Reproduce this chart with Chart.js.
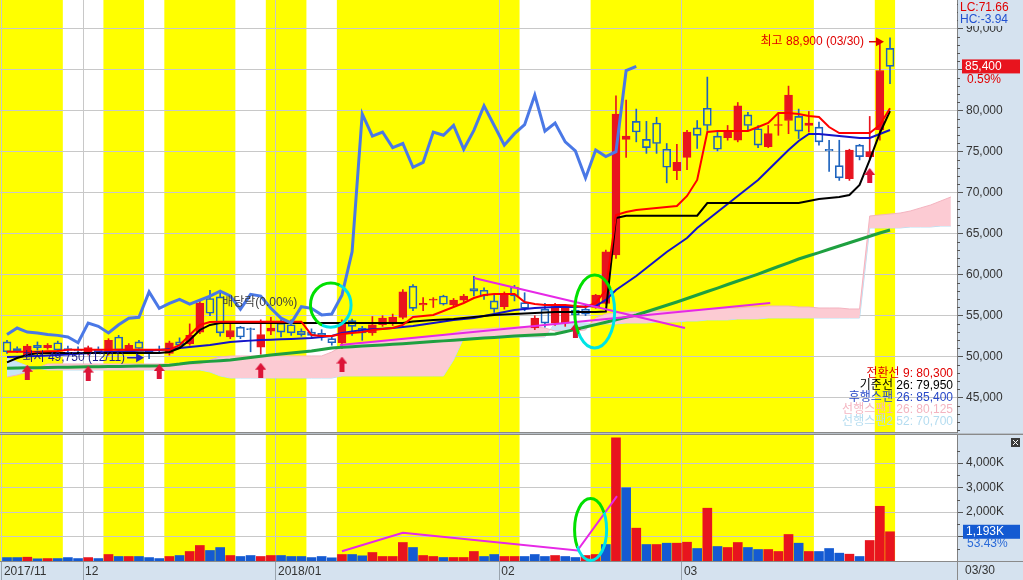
<!DOCTYPE html>
<html>
<head>
<meta charset="utf-8">
<script src="https://cdn.jsdelivr.net/npm/chart.js@4.4.1/dist/chart.umd.min.js"></script>
<style>
  html, body { margin: 0; padding: 0; background: #d5e2ef; }
  #wrap { position: relative; width: 1023px; height: 580px; overflow: hidden; }
  canvas { position: absolute; left: 0; }
  #priceCanvas { top: 0; }
  #volCanvas { top: 434px; }
</style>
</head>
<body>
<div id="wrap">
  <canvas id="priceCanvas" width="1023" height="434"></canvas>
  <canvas id="volCanvas" width="1023" height="146"></canvas>
</div>
<script>
// daily candles 2017/11/21 .. 2018/03/30 (88 trading days)
const opens = [51800,51000,50200,51400,51100,51700,51000,50900,50400,50900, 50400,52400,50600,51800,50700,50900,50400,51800,51600,53000,
  57100,57300,52400,53600,53400,51150,53100,54100,53900,53100, 53000,52850,52200,51700,54400,53500,52900,53900,54000,54800,
  58600,56300,56900,57400,56300,56900,58300,58100,56800,56100, 58500,56600,53500,55800,54100,54100,55700,55800,56000,56500,
  62400,76500,78700,76500,78500,75300,72700,74300,77900,80300, 76900,76700,76400,79500,77800,75600,78200,78800,79300,78200,
  78000,75300,73300,71700,75800,74400,77700,87600];
const highs = [52000,51200,51500,51800,51600,51900,51300,51200,51300,51200, 52200,52600,51600,52000,50900,51300,51900,52300,54000,57000,
  58100,58100,54000,53700,53500,54500,54800,54500,54500,53400, 53400,53300,52500,54500,54600,53700,54900,55000,55200,58200,
  58800,57200,57200,57500,57100,57600,59800,58400,57600,57900, 58700,57800,55000,56500,56500,56200,56400,56300,57600,63000,
  81800,81300,80200,78700,79200,76000,75900,77600,78800,84100, 77400,78200,81000,79800,78200,78200,79700,83000,80200,79900,
  78600,76400,76400,75300,75900,79300,88500,88900];
const lows = [50400,50500,50000,50800,50900,50700,50600,50500,50200,50400, 50200,50600,50400,50800,49750,50500,50200,51000,51400,52800,
  55000,52500,52200,52200,50600,50300,52700,52400,52600,52500, 52300,52000,51400,51000,52600,52000,52600,53700,53800,54600,
  55600,55600,56000,56300,56100,56700,57400,57000,55400,55800, 56800,55600,53300,53600,53800,53700,54400,55000,55900,56400,
  62000,74300,76200,74800,74800,71200,71600,72800,75400,77600, 75100,76400,76200,77600,75500,75500,77000,77200,76600,77400,
  75800,72600,71500,71500,74000,74000,76400,83300];
const closes = [50600,50700,51300,51100,51400,50800,50800,50700,51100,50600, 52000,50800,51400,51000,50400,50800,51700,51400,52600,56500,
  55300,52900,53200,52400,53300,52700,53500,53000,52900,52700, 52600,52400,51700,54100,53700,52900,53900,54700,54800,57900,
  55900,56500,57000,56400,56900,57400,58000,57400,55800,57600, 57400,55900,54700,54100,56100,55900,55100,55200,57500,62800,
  79600,76900,77400,75500,76000,73100,73700,77400,77000,78200, 75300,77600,80600,78200,75800,77200,78300,81900,77500,78500,
  76200,75100,71800,75200,74400,75000,84900,85400];

// volume in thousands, and whether the bar is shown as an up day
const volumes = [140,140,155,90,100,100,140,100,140,100, 265,184,184,184,140,100,184,224,388,633,
  429,550,224,184,224,184,224,224,184,184, 140,184,130,265,265,212,347,184,184,755,
  551,224,184,143,143,143,388,184,265,184, 184,184,265,184,224,184,143,224,265,673,
  5030,2990,1340,673,673,727,727,767,510,2155, 592,551,755,551,469,469,388,1082,727,388,
  388,510,320,278,184,837,2233,1193];
const volUp = [0,0,1,0,1,0,0,0,1,0, 1,0,1,0,0,0,1,0,1,1, 0,0,1,0,0,1,1,0,0,0, 0,0,0,1,0,0,1,1,1,1,
  0,1,1,0,1,1,1,0,0,1, 1,0,0,0,1,0,0,1,1,0, 1,0,1,0,1,0,1,1,0,1, 0,1,1,0,0,1,1,1,0,1, 0,0,0,1,0,1,1,1];

// ichimoku + moving averages
const convLine = [50600,50600,50600,50600,50650,50700,50850,50850,50850,50850, 50850,50850,50850,50850,50850,50850,50850,51400,52650,53870,
  54230,54270,54270,54270,54270,54270,54270,54270,54270,54270, 52650,52520,52520,52770,52900,53000,53250,53380,53500,53870,
  54840,54960,55090,55570,56060,56550,57160,57520,57650,57650, 57650,56670,56430,56300,56300,56300,56180,56060,56550,58130,
  67280,67650,67890,68010,68130,68250,68380,69600,71550,77400, 77520,77520,77520,77520,78010,78500,79720,79720,79600,79350,
  79230,78010,77280,77280,77280,77280,78250,80300];
const baseLine = [49310,49840,50200,50450,50450,50450,50450,50450,50450,50450, 50450,50450,50450,50450,50450,50450,50570,51060,52040,53260,
  53870,54110,54110,54110,54110,54110,54110,54110,54110,54110, 54110,54110,54110,54110,54110,54110,54110,54110,54110,54110,
  54290,54380,54480,54540,54600,54720,54840,54960,55090,55150, 55210,55270,55330,55400,55450,55450,55450,55450,55450,55500,
  66900,67200,67200,67200,67200,67200,67200,67200,67200,68740, 68740,68740,68740,68740,68740,68740,68740,68740,68740,69000,
  69230,69350,69480,69720,70940,74000,77280,79950];
const maMid = [49960,50000,50050,50100,50150,50200,50270,50350,50420,50500, 50570,50620,50670,50720,50770,50820,50940,51060,51180,51300,
  51430,51610,51790,51870,51960,52040,52080,52120,52160,52220, 52280,52400,52520,52890,53080,53260,53340,53420,53500,53620,
  53750,53930,54110,54300,54480,54600,54720,54960,55210,55450, 55700,55820,55940,56000,56060,56060,56060,56120,56180,56920,
  58130,58990,59840,60820,61790,62770,63620,64480,65700,66670, 67650,68620,69600,70580,71550,72770,73990,75210,76310,77160,
  77160,77040,76920,76800,76670,76670,77160,77650];
const maLong = [48600,48620,48640,48660,48680,48700,48720,48740,48760,48780, 48800,48820,48840,48860,48880,48900,48960,49100,49270,49350,
  49430,49520,49600,49750,49900,50050,50200,50320,50450,50570, 50700,50880,51060,51140,51220,51290,51370,51440,51520,51590,
  51670,51760,51840,51930,52010,52100,52180,52270,52350,52440, 52520,52580,52650,52710,52770,53050,53330,53620,53910,54200,
  54500,54800,55090,55480,55880,56270,56670,57100,57520,57950, 58370,58800,59230,59650,60080,60540,61000,61450,61910,62310,
  62700,63100,63500,63900,64290,64690,65080,65450];
// leading spans run 6 days past the last candle inside the view
const span1 = [47520,47770,48130,48620,49110,49110,49110,49110,49110,49110, 49110,49110,49110,49110,49110,49110,49110,49110,49110,49110,
  49600,49960,50090,50090,50090,50090,50090,50090,50090,50090, 50090,50090,50570,51300,51550,51670,51790,51910,52040,52160,
  52280,52400,52520,52650,52890,53260,53380,53380,53500,53500, 53620,53620,53620,53500,53130,53130,53130,53260,54720,55210,
  55330,55450,55450,55450,55570,55570,55570,55700,55700,55820, 55820,55940,55940,56060,56060,56180,56180,56180,56060,56060,
  55940,55940,55940,55820,55820,67160,67280,67400,67520,67770, 68140,68500,68990,69480];
const span2 = [49840,49350,48870,48620,48380,48380,48380,48380,48380,48380, 48380,48380,48380,48380,48380,48380,48380,48380,48380,48380,
  48130,47650,47400,47400,47400,47400,47400,47400,47400,47400, 47400,47400,47400,47650,47650,47650,47650,47650,47650,47650,
  47650,47650,47650,47650,49600,52280,52400,52400,52400,52400, 52400,52400,52400,52400,54110,54110,54110,54110,53990,53990,
  53990,54110,54110,54110,54230,54230,54230,54350,54350,54480, 54480,54480,54600,54600,54600,54720,54720,54720,54720,54720,
  54720,54720,54720,54720,54720,65700,65700,65700,65700,65820, 65820,65820,65940,65940];
const laggingShift = 25;

// calendar and axes
const monthStarts = [0, 8, 27, 49, 67];
const monthLabels = ['2017/11', '12', '2018/01', '02', '03'];
const yellowRuns = [[0, 5], [10, 13], [16, 22], [26, 29], [33, 50], [58, 79], [86, 87]];
const priceTicks = [45000, 50000, 55000, 60000, 65000, 70000, 75000, 80000, 85000, 90000];
const volTicks = [1000, 2000, 3000, 4000];
const volLabelled = [2000, 3000, 4000];

// buy signals and hand drawn trend lines
const signalIdx = [2, 8, 15, 25, 33, 56, 85];
const signalPrice = [48100, 48000, 48200, 48350, 49100, 53200, 72100];
const trendUp = [[32.8, 51430], [75.2, 56550]];
const trendDown = [[46.0, 59600], [66.8, 53500]];
const volTrend = [[33, 400], [39, 1150], [56.2, 430], [60.1, 2645]];

const legendRows = [
  ['전환선 9: 80,300', '#e00000'],
  ['기준선 26: 79,950', '#000000'],
  ['후행스팬 26: 85,400', '#2848c8'],
  ['선행스팬1 26: 80,125', '#f4b4c0'],
  ['선행스팬2 52: 70,700', '#b4dcf0']
];

const FAMILY = '"Liberation Sans", "Noto Sans CJK KR", sans-serif';
const FONT = '12px ' + FAMILY;
const AXIS_BG = '#d5e2ef';
const RED = '#e8141e', BLUE = '#1e64be', VBLUE = '#145ad2', MAGENTA = '#e628e6';
const X_MIN = -0.69, X_MAX = 93.6;

const isUp = i => closes[i] >= opens[i];
const pts = pairs => pairs.map(p => ({x: p[0], y: p[1]}));
const series = (arr, from) => arr.map((v, i) => ({x: i + (from || 0), y: v}));

function makeArrow(color) {
  const c = document.createElement('canvas');
  c.width = 11; c.height = 15;
  const g = c.getContext('2d');
  g.fillStyle = color;
  g.beginPath();
  g.moveTo(5.5, 0); g.lineTo(11, 7); g.lineTo(8, 7); g.lineTo(8, 15);
  g.lineTo(3, 15); g.lineTo(3, 7); g.lineTo(0, 7); g.closePath();
  g.fill();
  return c;
}

function drawRing(ctx, cx, cy, rx, ry) {
  const grad = ctx.createLinearGradient(cx - rx, cy - ry * 0.4, cx + rx, cy + ry * 0.4);
  grad.addColorStop(0, '#00e000');
  grad.addColorStop(0.5, '#00e000');
  grad.addColorStop(0.5, '#00e4e4');
  grad.addColorStop(1, '#00e4e4');
  ctx.strokeStyle = grad;
  ctx.lineWidth = 3;
  ctx.beginPath();
  ctx.ellipse(cx, cy, rx, ry, 0, 0, Math.PI * 2);
  ctx.stroke();
}

function drawArrowRight(ctx, x0, x1, y, color) {
  ctx.strokeStyle = color; ctx.fillStyle = color; ctx.lineWidth = 1.5;
  ctx.beginPath(); ctx.moveTo(x0, y); ctx.lineTo(x1 - 6, y); ctx.stroke();
  ctx.beginPath(); ctx.moveTo(x1, y); ctx.lineTo(x1 - 8, y - 4.5); ctx.lineTo(x1 - 8, y + 4.5); ctx.closePath(); ctx.fill();
}

function fitTo(w, h) {
  return s => {
    if (w != null) s.width = w;
    if (h != null) s.height = h;
    s.paddingTop = s.paddingBottom = s.paddingLeft = s.paddingRight = 0;
  };
}

// white panel with the yellow day bands, drawn under the grid
const panelBackground = {
  id: 'panelBackground',
  beforeDraw(chart) {
    const {ctx, chartArea: a, scales: {x}} = chart;
    ctx.save();
    ctx.fillStyle = '#ffffff';
    ctx.fillRect(a.left, a.top, a.right - a.left, a.bottom - a.top);
    ctx.fillStyle = '#ffff00';
    yellowRuns.forEach(([s, e]) => {
      const x0 = s === 0 ? a.left : x.getPixelForValue(s - 0.5);
      const x1 = Math.min(a.right, x.getPixelForValue(e + 0.5));
      ctx.fillRect(x0, a.top, x1 - x0, a.bottom - a.top);
    });
    ctx.restore();
  }
};

function xAxis(withLabels) {
  return {
    type: 'linear', min: X_MIN, max: X_MAX, offset: false,
    afterBuildTicks: s => { s.ticks = monthStarts.map(i => ({value: i - 0.5})); },
    grid: {offset: false, color: '#c8c8c8', drawTicks: withLabels, tickLength: 19, tickColor: '#9aa4ae'},
    border: {display: true, color: '#8a8a8a'},
    ticks: withLabels
      ? {autoSkip: false, maxRotation: 0, minRotation: 0, align: 'start', labelOffset: 2, padding: -16,
         color: '#333', font: {family: FAMILY, size: 12}, callback: (v, i) => monthLabels[i]}
      : {display: false},
    afterFit: fitTo(null, withLabels ? 19 : 2)
  };
}

const priceOverlay = {
  id: 'priceOverlay',
  afterDatasetsDraw(chart) {
    const {ctx, scales: {x, y}} = chart;
    ctx.save();
    [[31.9, 56300, 2.0, 2700], [57.9, 55510, 1.97, 4450]].forEach(([i, v, di, dv]) => {
      const cx = x.getPixelForValue(i), cy = y.getPixelForValue(v);
      drawRing(ctx, cx, cy, x.getPixelForValue(i + di) - cx, y.getPixelForValue(v - dv) - cy);
    });

    ctx.font = FONT;
    ctx.textBaseline = 'middle';
    // highest price
    const hx = x.getPixelForValue(87) - 6, hy = y.getPixelForValue(88900) + 4;
    ctx.fillStyle = '#e00000'; ctx.textAlign = 'right';
    ctx.fillText('최고 88,900 (03/30)', hx - 20, hy);
    drawArrowRight(ctx, hx - 15, hx, hy, '#e00000');
    // lowest price
    const lx = x.getPixelForValue(14) - 5, ly = y.getPixelForValue(49750) - 1;
    ctx.fillStyle = '#1a1a8c'; ctx.textAlign = 'right';
    ctx.fillText('최저 49,750 (12/11)', lx - 19, ly);
    drawArrowRight(ctx, lx - 17, lx, ly, '#2020c0');
    // ex-dividend note
    ctx.fillStyle = '#404040'; ctx.textAlign = 'left';
    ctx.fillText('배당락(0.00%)', x.getPixelForValue(21.2), y.getPixelForValue(56550));
    ctx.restore();
  },
  afterDraw(chart) {
    const {ctx, chartArea: a, scales: {y}} = chart;
    ctx.save();
    // minor ticks
    ctx.strokeStyle = '#555'; ctx.lineWidth = 1;
    ctx.beginPath();
    for (let v = 41000; v <= 93000; v += 1000) {
      if (v % 5000 === 0) continue;
      const py = Math.round(y.getPixelForValue(v)) + 0.5;
      ctx.moveTo(a.right, py); ctx.lineTo(a.right + 3, py);
    }
    ctx.stroke();
    // legend
    ctx.font = FONT; ctx.textAlign = 'right'; ctx.textBaseline = 'middle';
    legendRows.forEach(([t, c], k) => {
      ctx.fillStyle = c;
      ctx.fillText(t, a.right - 4, 374 + k * 12);
    });
    // LC / HC
    ctx.fillStyle = AXIS_BG;
    ctx.fillRect(a.right + 1, 0, chart.width - a.right - 1, 26);
    ctx.textAlign = 'left';
    ctx.fillStyle = '#e00000'; ctx.fillText('LC:71.66', a.right + 3, 8);
    ctx.fillStyle = '#2050d0'; ctx.fillText('HC:-3.94', a.right + 3, 19.5);
    // last price box
    const py = y.getPixelForValue(closes[closes.length - 1]);
    ctx.fillStyle = RED;
    ctx.fillRect(a.right + 5, py - 7, 58, 14);
    ctx.fillStyle = '#ffffff'; ctx.fillText('85,400', a.right + 8, py);
    ctx.fillStyle = '#e00000'; ctx.fillText('0.59%', a.right + 10, py + 13);
    // panel separator
    ctx.fillStyle = '#b8c0c8';
    ctx.fillRect(0, a.bottom + 1, chart.width, 1);
    ctx.restore();
  }
};

const volOverlay = {
  id: 'volOverlay',
  afterDatasetsDraw(chart) {
    const {ctx, scales: {x, y}} = chart;
    ctx.save();
    const cx = x.getPixelForValue(57.5), cy = y.getPixelForValue(1286);
    drawRing(ctx, cx, cy, x.getPixelForValue(57.5 + 1.58) - cx, y.getPixelForValue(1286 - 1265) - cy);
    ctx.restore();
  },
  afterDraw(chart) {
    const {ctx, chartArea: a, scales: {y}} = chart;
    ctx.save();
    ctx.strokeStyle = '#555'; ctx.lineWidth = 1;
    ctx.beginPath();
    for (let v = 500; v <= 5000; v += 1000) {
      const py = Math.round(y.getPixelForValue(v)) + 0.5;
      ctx.moveTo(a.right, py); ctx.lineTo(a.right + 3, py);
    }
    ctx.stroke();
    // top border
    ctx.fillStyle = '#8a8a8a';
    ctx.fillRect(0, 0, chart.width, 1);
    // corner of the date strip
    ctx.fillRect(a.right, a.bottom, 1, chart.height - a.bottom);
    ctx.fillRect(a.right, a.bottom, chart.width - a.right, 1);
    ctx.font = FONT; ctx.textBaseline = 'middle'; ctx.textAlign = 'left';
    ctx.fillStyle = '#333';
    ctx.fillText('03/30', a.right + 8, chart.height - 9);
    // last volume box
    const py = y.getPixelForValue(volumes[volumes.length - 1]);
    ctx.fillStyle = VBLUE;
    ctx.fillRect(a.right + 6, py - 7, 57, 14);
    ctx.fillStyle = '#ffffff'; ctx.fillText('1,193K', a.right + 9, py);
    ctx.fillStyle = '#2a6ad8'; ctx.fillText('53.43%', a.right + 10, py + 12);
    // close button
    ctx.fillStyle = '#3c3c3c';
    ctx.fillRect(chart.width - 12, 4, 9, 9);
    ctx.strokeStyle = '#ffffff'; ctx.lineWidth = 1;
    ctx.beginPath();
    ctx.moveTo(chart.width - 10, 6); ctx.lineTo(chart.width - 5, 11);
    ctx.moveTo(chart.width - 5, 6); ctx.lineTo(chart.width - 10, 11);
    ctx.stroke();
    ctx.restore();
  }
};

const arrowImg = makeArrow('#dc1438');
const idxs = closes.map((c, i) => i);
const line = (data, color, width, order, extra) => Object.assign(
  {type: 'line', data, borderColor: color, borderWidth: width, pointRadius: 0, fill: false, tension: 0, order}, extra || {});

const priceChart = new Chart(document.getElementById('priceCanvas'), {
  type: 'line',
  data: {
    datasets: [
      line(pts(trendUp), MAGENTA, 2, 0),
      line(pts(trendDown), MAGENTA, 2, 0),
      {type: 'line', data: signalIdx.map((i, k) => ({x: i, y: signalPrice[k]})), showLine: false,
       pointStyle: arrowImg, pointRadius: 6, order: 0},
      line(series(closes.slice(laggingShift)), '#4a78e6', 3, 1),
      line(series(convLine), '#ff0000', 2, 2),
      line(series(baseLine), '#000000', 2, 3),
      line(series(maMid), '#1414c8', 2, 4),
      line(series(maLong), '#1ea040', 3, 5),
      {type: 'bar', order: 6, grouped: false, barThickness: 8, minBarLength: 1, borderWidth: 1, borderSkipped: false,
       data: idxs.map(i => ({x: i, y: [opens[i], closes[i]]})),
       backgroundColor: c => isUp(c.dataIndex) ? RED : 'rgba(0,0,0,0)',
       borderColor: c => isUp(c.dataIndex) ? RED : BLUE},
      {type: 'bar', order: 7, grouped: false, barThickness: 1, borderWidth: 0,
       data: idxs.map(i => ({x: i, y: [Math.max(opens[i], closes[i]), highs[i]]})),
       backgroundColor: c => isUp(c.dataIndex) ? RED : BLUE},
      {type: 'bar', order: 7, grouped: false, barThickness: 1, borderWidth: 0,
       data: idxs.map(i => ({x: i, y: [lows[i], Math.min(opens[i], closes[i])]})),
       backgroundColor: c => isUp(c.dataIndex) ? RED : BLUE},
      line(series(span1), '#f4b4c0', 1, 9, {fill: {target: '+1', above: '#fccbd3', below: '#c8e4f4'}}),
      line(series(span2), '#b4dcf0', 1, 10)
    ]
  },
  options: {
    responsive: false, animation: false, devicePixelRatio: 1,
    layout: {padding: 0, autoPadding: false},
    plugins: {legend: {display: false}, tooltip: {enabled: false}},
    scales: {
      x: xAxis(false),
      y: {
        position: 'right', min: 40817, max: 93500,
        afterBuildTicks: s => { s.ticks = priceTicks.map(v => ({value: v})); },
        ticks: {padding: 3, color: '#333', font: {family: FAMILY, size: 12},
                callback: v => v.toLocaleString('en-US')},
        grid: {color: '#c8c8c8', tickLength: 6, tickColor: '#555'},
        border: {display: true, color: '#808080'},
        afterFit: fitTo(66, null)
      }
    }
  },
  plugins: [panelBackground, priceOverlay]
});

const volChart = new Chart(document.getElementById('volCanvas'), {
  type: 'line',
  data: {
    datasets: [
      line(pts(volTrend), MAGENTA, 2, 0),
      {type: 'bar', order: 1, grouped: false, barThickness: 9, borderWidth: 0,
       data: volumes.map((v, i) => ({x: i, y: v})),
       backgroundColor: c => volUp[c.dataIndex] ? RED : VBLUE}
    ]
  },
  options: {
    responsive: false, animation: false, devicePixelRatio: 1,
    layout: {padding: {top: 1, left: 0, right: 0, bottom: 0}, autoPadding: false},
    plugins: {legend: {display: false}, tooltip: {enabled: false}},
    scales: {
      x: xAxis(true),
      y: {
        position: 'right', min: 0, max: 5143,
        afterBuildTicks: s => { s.ticks = volTicks.map(v => ({value: v})); },
        ticks: {padding: 3, color: '#333', font: {family: FAMILY, size: 12},
                callback: v => volLabelled.includes(v) ? v.toLocaleString('en-US') + 'K' : ''},
        grid: {color: '#c8c8c8', tickLength: 6, tickColor: '#555'},
        border: {display: true, color: '#808080'},
        afterFit: fitTo(66, null)
      }
    }
  },
  plugins: [panelBackground, volOverlay]
});
</script>
</body>
</html>
